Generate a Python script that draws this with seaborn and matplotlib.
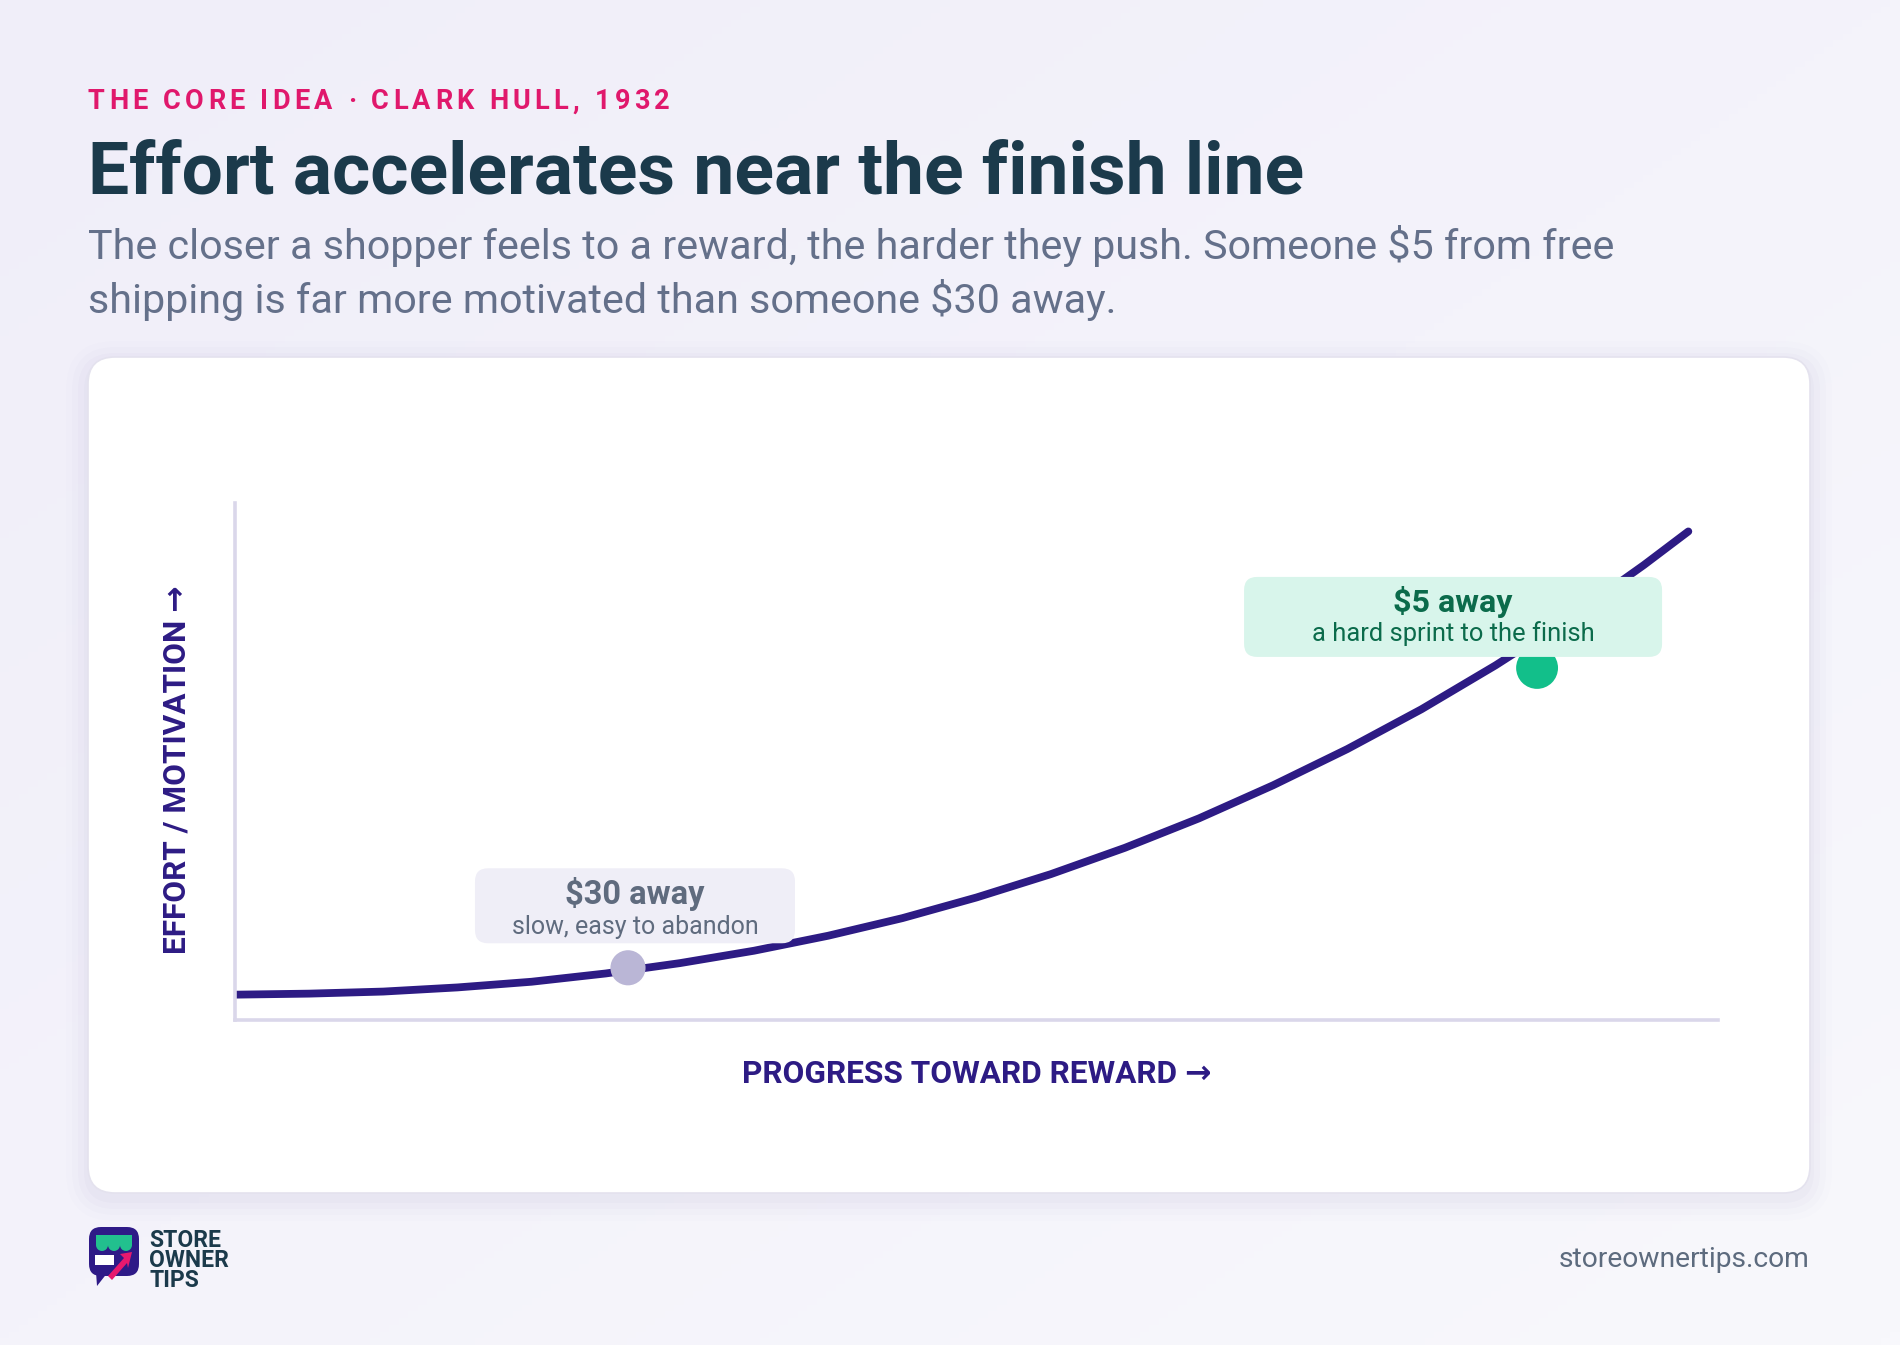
import numpy as np
import pandas as pd
import seaborn as sns
import matplotlib.pyplot as plt
from matplotlib import font_manager
from matplotlib.colors import LinearSegmentedColormap
from matplotlib.patches import FancyBboxPatch, Polygon, Wedge, Rectangle
from matplotlib.transforms import IdentityTransform

# curve (progress 0-100, effort 0-100)
progress = [0, 5, 10, 15, 20, 25, 30, 35, 40, 45, 50, 55, 60, 65, 70, 75, 80, 85, 90, 95, 98]
effort = [4.9, 5.1, 5.5, 6.3, 7.4, 9.0, 11.0, 13.4, 16.3, 19.7, 23.7, 28.2, 33.3, 39.0,
          45.4, 52.4, 60.1, 68.6, 77.8, 88.0, 94.5]

marker_names = ["$30 away", "$5 away"]
marker_notes = ["slow, easy to abandon", "a hard sprint to the finish"]
marker_progress = [26.5, 87.8]
marker_effort = [10.1, 68.1]

eyebrow = "THE CORE IDEA · CLARK HULL, 1932"
title = "Effort accelerates near the finish line"
subtitle = ["The closer a shopper feels to a reward, the harder they push. Someone \\$5 from free",
            "shipping is far more motivated than someone \\$30 away."]
x_label = "PROGRESS TOWARD REWARD →"
y_label = "EFFORT / MOTIVATION →"

INDIGO = "#2D1B84"
INK = "#1B3A4B"
GREY = "#64708A"

W, H = 1900, 1345
sns.set_theme(style="white")
plt.rcParams["font.family"] = ["Roboto", "DejaVu Sans"]

fig = plt.figure(figsize=(W / 100, H / 100), dpi=100)
renderer = fig.canvas.get_renderer()

names = {f.name for f in font_manager.fontManager.ttflist}
title_family = ["Liberation Sans Narrow", "Roboto"] if "Liberation Sans Narrow" in names else ["Roboto"]


def fx(x):
    return x / W


def fy(y):
    return 1 - y / H


def fitted(x, y, s, width, size, **kw):
    t = fig.text(fx(x), fy(y), s, fontsize=size, **kw)
    w = t.get_window_extent(renderer).width
    t.set_fontsize(size * width / w)
    return t


def tracked(x, y, s, width, size, **kw):
    chars = [fig.text(fx(x), fy(y), ch, fontsize=size, ha="left", **kw) for ch in s]
    widths = [c.get_window_extent(renderer).width for c in chars]
    gap = (width - sum(widths)) / (len(s) - 1)
    for c, w in zip(chars, widths):
        c.set_x(fx(x))
        x += w + gap


# background
bg = fig.add_axes([0, 0, 1, 1], zorder=-10)
gx, gy = np.meshgrid(np.linspace(0, 1, 200), np.linspace(0, 1, 200))
bg_cmap = LinearSegmentedColormap.from_list("bg", ["#F0EEF9", "#F8F8FC"])
bg.imshow((gx + gy) / 2, cmap=bg_cmap, extent=[0, 1, 0, 1], aspect="auto", origin="upper")
bg.axis("off")

# card with soft shadow
cx0, cy0, cx1, cy1 = 88, 357, 1810, 1193
for i, a in enumerate([0.018, 0.014, 0.010, 0.007]):
    grow = 4 + i * 6
    fig.add_artist(FancyBboxPatch((cx0 - grow, H - cy1 - grow - 6), cx1 - cx0 + 2 * grow,
                                  cy1 - cy0 + 2 * grow,
                                  boxstyle=f"round,pad=0,rounding_size={27 + grow}",
                                  transform=IdentityTransform(), fc="#3A2E80", ec="none",
                                  alpha=a, zorder=-6))
fig.add_artist(FancyBboxPatch((cx0, H - cy1), cx1 - cx0, cy1 - cy0,
                              boxstyle="round,pad=0,rounding_size=27",
                              transform=IdentityTransform(), fc="white", ec="#E4E2EE",
                              lw=1.2, zorder=-5))

# headline block
tracked(88, 109, eyebrow, 582, 19.5, color="#E0186C", weight="semibold", va="baseline")
fitted(88, 194, title, 1217, 50, color=INK, weight="bold", va="baseline", family=title_family)
sub = fitted(88, 259, subtitle[0], 1524, 28, color=GREY, va="baseline")
fig.text(fx(88), fy(313), subtitle[1], fontsize=sub.get_fontsize(), color=GREY, va="baseline")

# chart
ax = fig.add_axes([fx(235), fy(1020), (1718 - 235) / W, (1020 - 503) / H])
ax.set_facecolor("none")
sns.lineplot(x=progress, y=effort, ax=ax, color=INDIGO, linewidth=5.6,
             solid_capstyle="round", solid_joinstyle="round", sort=False,
             estimator=None, zorder=2)
pts = pd.DataFrame({"progress": marker_progress, "effort": marker_effort, "name": marker_names})
sns.scatterplot(data=pts, x="progress", y="effort", hue="name", size="name", ax=ax,
                palette={"$30 away": "#BAB6D6", "$5 away": "#12BF8A"},
                sizes={"$30 away": 640, "$5 away": 910},
                edgecolor="none", linewidth=0, legend=False, zorder=3)
ax.set_xlim(0, 100)
ax.set_ylim(0, 100)
ax.set_xticks([])
ax.set_yticks([])
sns.despine(ax=ax)
for side in ["left", "bottom"]:
    ax.spines[side].set_color("#DAD7EA")
    ax.spines[side].set_linewidth(2.6)

ax.set_xlabel(x_label, color=INDIGO, weight="semibold", fontsize=22.5)
ax.set_ylabel(y_label, color=INDIGO, weight="semibold", fontsize=22.5)
ax.xaxis.set_label_coords((977 - 235) / 1483, (1020 - 1074) / 517)
ax.yaxis.set_label_coords((176 - 235) / 1483, (1020 - 770) / 517)
ax.xaxis.label.set_va("center")
ax.yaxis.label.set_va("center")
xl = ax.xaxis.label
xl.set_fontsize(22.5 * 470 / xl.get_window_extent(renderer).width)
ax.yaxis.label.set_fontsize(xl.get_fontsize())

# callouts
boxes = [
    dict(off=(7, 62), size=(320, 75), fc="#EFEEF7", tc="#5F6B7E", head=(12, 139), note=(-21, 247)),
    dict(off=(-84, 51), size=(418, 80), fc="#D8F5EB", tc="#0B6B4B", head=(15, 119), note=(-17, 282)),
]
for name, note, px, py, b in zip(marker_names, marker_notes, marker_progress, marker_effort, boxes):
    dx, dy = ax.transData.transform((px, py))
    bw, bh = b["size"]
    ccx, ccy = dx + b["off"][0], dy + b["off"][1]
    ax.add_artist(FancyBboxPatch((ccx - bw / 2, ccy - bh / 2), bw, bh,
                                 boxstyle="round,pad=0,rounding_size=13",
                                 transform=IdentityTransform(), fc=b["fc"], ec="none",
                                 zorder=4, clip_on=False))
    t1 = ax.annotate(name.replace("$", "\\$"), xy=(px, py),
                     xytext=(b["off"][0], b["off"][1] + b["head"][0]),
                     textcoords="offset pixels", ha="center", va="center",
                     color=b["tc"], weight="bold", fontsize=22, zorder=5)
    t1.set_fontsize(22 * b["head"][1] / t1.get_window_extent(renderer).width)
    t2 = ax.annotate(note, xy=(px, py), xytext=(b["off"][0], b["off"][1] + b["note"][0]),
                     textcoords="offset pixels", ha="center", va="center",
                     color=b["tc"], fontsize=16, zorder=5)
    t2.set_fontsize(16 * b["note"][1] / t2.get_window_extent(renderer).width)

# footer logo
fig.add_artist(FancyBboxPatch((89, H - 1276), 50, 49, boxstyle="round,pad=0,rounding_size=12",
                              transform=IdentityTransform(), fc="#2E1A87", ec="none"))
fig.add_artist(Polygon([(96, H - 1272), (108, H - 1272), (97, H - 1286)], closed=True,
                       transform=IdentityTransform(), fc="#2E1A87", ec="none"))
fig.add_artist(Rectangle((96, H - 1245), 36, 10, transform=IdentityTransform(),
                         fc="#22C08E", ec="none"))
for k in range(3):
    fig.add_artist(Wedge((102 + k * 12, H - 1245), 6, 180, 360, transform=IdentityTransform(),
                         fc="#22C08E", ec="none"))
fig.add_artist(Rectangle((95, H - 1265), 19, 10, transform=IdentityTransform(),
                         fc="white", ec="none"))
fig.add_artist(Polygon([(108, H - 1276), (112, H - 1280), (127, H - 1263), (128, H - 1268),
                        (132, H - 1252), (120, H - 1254), (124, H - 1258)], closed=True,
                       transform=IdentityTransform(), fc="#E8196E", ec="none"))
fig.text(fx(149), fy(1287), "STORE\nOWNER\nTIPS", fontsize=16.5, color=INK, weight="bold",
         va="baseline", linespacing=0.84)

fitted(1810, 1267, "storeownertips.com", 251, 18, color="#5D6B7E", ha="right", va="baseline")

fig.savefig("out.png", dpi=100)
